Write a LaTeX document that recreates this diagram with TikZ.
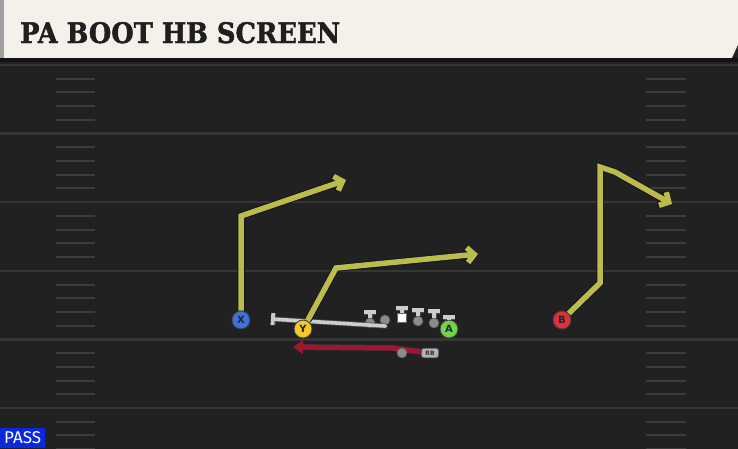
\documentclass[tikz,border=0pt]{standalone}
\usepackage{fontspec}
\usepackage{graphicx}
\usetikzlibrary{arrows.meta}
\newfontfamily\titlefont[BoldFeatures={FakeBold=1.6}]{DejaVu Serif}
\newfontfamily\passfont{Fira Sans}
\newfontfamily\markfont{DejaVu Sans}

\definecolor{field}{RGB}{33,33,33}
\definecolor{yardcol}{RGB}{54,54,54}
\definecolor{hashcol}{RGB}{60,60,60}
\definecolor{cream}{RGB}{244,241,234}
\definecolor{creamedge}{RGB}{160,160,160}
\definecolor{headshade}{RGB}{18,18,18}
\definecolor{routecol}{RGB}{188,188,76}
\definecolor{routeedge}{RGB}{22,22,32}
\definecolor{runcol}{RGB}{160,22,50}
\definecolor{blockcol}{RGB}{205,205,205}
\definecolor{olcol}{RGB}{140,140,140}
\definecolor{xblue}{RGB}{62,112,222}
\definecolor{yyellow}{RGB}{246,200,40}
\definecolor{agreen}{RGB}{112,212,72}
\definecolor{bred}{RGB}{226,46,62}
\definecolor{passblue}{RGB}{10,40,220}

\tikzset{
  player/.style={circle, draw=black!75, line width=0.9pt, minimum size=18pt, inner sep=0pt,
    font=\markfont\bfseries\fontsize{10}{10}\selectfont, text=black!85},
  lineman/.style={circle, fill=olcol, draw=black!55, line width=0.8pt, minimum size=9.5pt, inner sep=0pt},
  snapper/.style={rectangle, fill=white, draw=black!60, line width=0.6pt, minimum size=9pt, inner sep=0pt},
  route/.style={line width=5.5pt, draw=routecol, preaction={draw=routeedge, line width=7.5pt},
    -{Straight Barb[length=7pt,width=15pt]}},
  block/.style={line width=3.6pt, draw=blockcol, preaction={draw=black!70, line width=5pt},
    -{Bar[width=12pt]}},
  runline/.style={line width=5pt, draw=runcol, line join=round, -{Triangle[length=10pt,width=13pt]}},
  yardline/.style={draw=yardcol, line width=2.4pt},
  hashmark/.style={draw=hashcol, line width=2pt}
}

\begin{document}
\begin{tikzpicture}[x=1pt, y=-1pt]
\useasboundingbox (0,0) rectangle (738,448);
\fill[field] (-5,-5) rectangle (743,453);
\clip (0,0) rectangle (738,448);

% field lines
\foreach \yd in {0,...,5} {
  \draw[yardline] (0,{65+68.6*\yd}) -- (738,{65+68.6*\yd});
  \foreach \h in {1,...,4} {
    \draw[hashmark] (56,{65+68.6*\yd+13.72*\h}) -- (95,{65+68.6*\yd+13.72*\h});
    \draw[hashmark] (646,{65+68.6*\yd+13.72*\h}) -- (686,{65+68.6*\yd+13.72*\h});
  }
}

% header
\fill[cream] (0,0) rectangle (738,58);
\fill[creamedge] (0,0) rectangle (4,58);
\fill[field] (738,45) -- (738,58) -- (732,58) -- cycle;
\fill[headshade] (0,58) rectangle (738,62);
\node[anchor=base west, inner sep=0pt, text=black!88] (title) at (20,43)
  {\resizebox{320pt}{21pt}{\titlefont\bfseries PA BOOT HB SCREEN}};

% line
\node[lineman] (lt) at (370,323) {};
\node[lineman] (lg) at (385,320) {};
\node[snapper] (c) at (402,318) {};
\node[lineman] (rg) at (418,321) {};
\node[lineman] (rt) at (434,323) {};
\coordinate (ltb) at (370,310);
\coordinate (cb) at (402,306);
\coordinate (rgb) at (418,308);
\coordinate (rtb) at (434,309);
\coordinate (lgturn) at (385,326);
\coordinate (lgend) at (271,319);

\draw[block] (lt) -- (ltb);
\draw[block] (c) -- (cb);
\draw[block] (rg) -- (rgb);
\draw[block] (rt) -- (rtb);
\draw[block, line join=round] (lg) -- (lgturn) -- (lgend);

% receivers
\node[player, fill=xblue] (X) at (241,320) {X};
\node[player, fill=yyellow] (Y) at (303,329) {Y};
\node[player, fill=agreen] (A) at (449,329) {A};
\node[player, fill=bred] (B) at (562,320) {B};

\coordinate (ablk) at (449,315);
\draw[block] (A) -- (ablk);

\coordinate (xbreak) at (241,216);
\coordinate (xend) at (346,180);
\coordinate (ybreak) at (336,268);
\coordinate (yend) at (478,254);
\coordinate (bbend) at (600,283);
\coordinate (btop) at (600,167);
\coordinate (bround) at (615,172);
\coordinate (bend) at (672,204);

\draw[route] (X) -- (xbreak) -- (xend);
\draw[route] (Y) -- (ybreak) -- (yend);
\draw[route] (B) -- (bbend) -- (btop) -- (bround) -- (bend);

% backfield
\node[rectangle, rounded corners=2.5pt, fill=black!30, draw=black!60, line width=0.6pt,
  minimum width=17pt, minimum height=9.5pt, inner sep=0pt,
  font=\markfont\bfseries\fontsize{6}{6}\selectfont, text=black!80] (RB) at (430,353) {RB};
\coordinate (rbbend) at (392,348);
\coordinate (rbend) at (293,347);
\draw[runline, preaction={draw=black!80, line width=6pt}] (RB) -- (rbbend) -- (rbend);
\node[lineman] (qb) at (402,353) {};

% play type
\node[fill=passblue, anchor=south west, minimum width=45pt, minimum height=20pt, inner sep=0pt,
  text=white, font=\passfont\fontsize{17}{17}\selectfont] (pass) at (0,448) {PASS};
\end{tikzpicture}
\end{document}
